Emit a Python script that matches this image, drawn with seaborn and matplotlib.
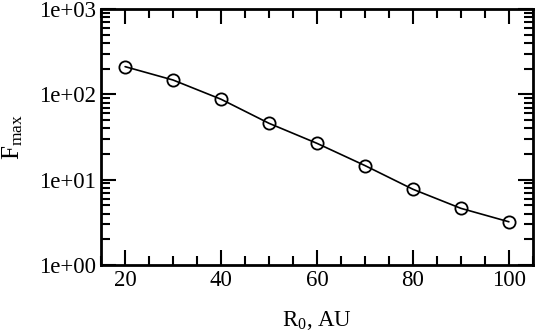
import numpy as np
import pandas as pd
import matplotlib
matplotlib.use("Agg")
import matplotlib.pyplot as plt
import matplotlib.ticker as mticker
import seaborn as sns

# values
r0 = [20, 30, 40, 50, 60, 70, 80, 90, 100]
fmax = [211, 147, 87.5, 45.7, 26.6, 14.6, 7.7, 4.6, 3.2]

df = pd.DataFrame({"R0": r0, "Fmax": fmax})

sns.set_style("ticks", {"axes.edgecolor": "black", "text.color": "black",
                        "xtick.color": "black", "ytick.color": "black",
                        "axes.labelcolor": "black"})
plt.rcParams["font.family"] = ["Liberation Serif", "DejaVu Serif"]
plt.rcParams["mathtext.fontset"] = "custom"
plt.rcParams["mathtext.rm"] = "Liberation Serif"
plt.rcParams["mathtext.it"] = "Liberation Serif:italic"

fig = plt.figure(figsize=(5.35, 3.34), dpi=100)
ax = fig.add_axes([0.189, 0.207, 0.807, 0.766])

sns.lineplot(data=df, x="R0", y="Fmax", ax=ax, color="black", linewidth=1.2,
             marker="o", markersize=8.8, markerfacecolor="none",
             markeredgecolor="black", markeredgewidth=1.3)

ax.set_yscale("log")
ax.set_xlim(15, 105)
ax.set_ylim(1, 1000)

ax.xaxis.set_major_locator(mticker.MultipleLocator(20))
ax.xaxis.set_minor_locator(mticker.MultipleLocator(5))
ax.yaxis.set_major_locator(mticker.LogLocator(base=10))
ax.yaxis.set_minor_locator(mticker.LogLocator(base=10, subs=np.arange(2, 10)))
ax.yaxis.set_minor_formatter(mticker.NullFormatter())
ax.yaxis.set_major_formatter(mticker.FuncFormatter(lambda v, p: "%.0e" % v))

ax.tick_params(which="both", direction="in", top=True, right=True, width=1.5,
               labelsize=16.5, pad=4, colors="black")
ax.tick_params(which="major", length=11)
ax.tick_params(which="minor", length=6.5)
for s in ax.spines.values():
    s.set_linewidth(2)
    s.set_visible(True)
    s.set_color("black")

ax.set_xlabel(r"R$_0$, AU", fontsize=16.5, labelpad=13)
ax.set_ylabel(r"F$_{\rm max}$", fontsize=18, labelpad=10)

fig.savefig("out.png", dpi=100)
